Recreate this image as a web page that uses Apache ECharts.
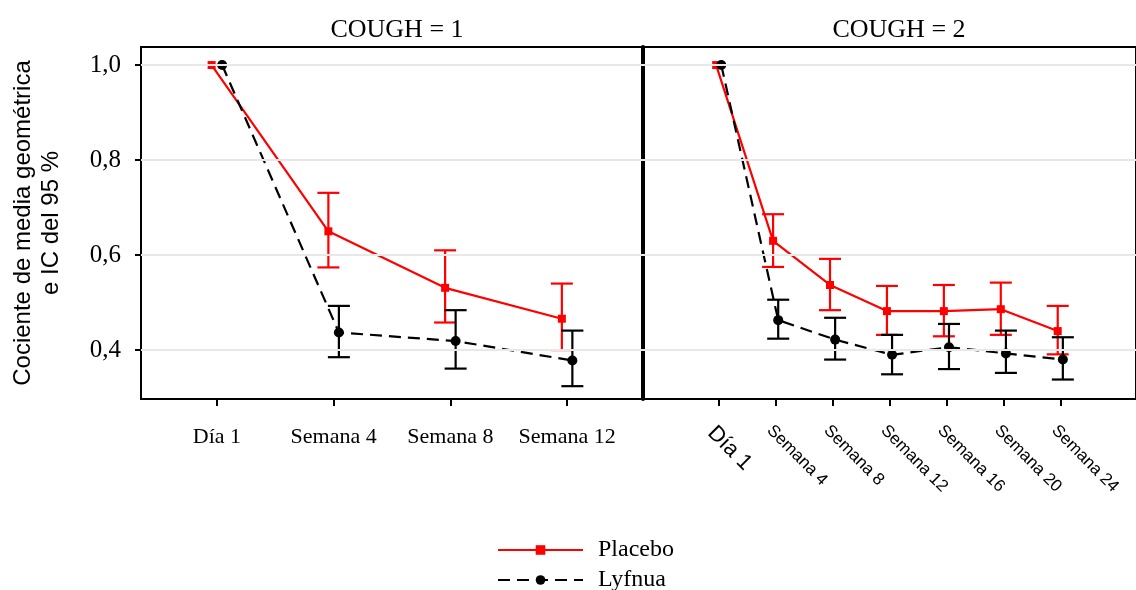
<!DOCTYPE html>
<html><head><meta charset="utf-8">
<script src="https://cdn.jsdelivr.net/npm/echarts@6/dist/echarts.min.js"></script>
<style>html,body{margin:0;padding:0;background:#fff}#c{width:1136px;height:590px}</style>
</head><body><div id="c"></div>
<script>
// ---- data ----
const panelTitles = ['COUGH = 1', 'COUGH = 2'];
const categories1 = ['Día 1', 'Semana 4', 'Semana 8', 'Semana 12'];
const categories2 = ['Día 1', 'Semana 4', 'Semana 8', 'Semana 12', 'Semana 16', 'Semana 20', 'Semana 24'];
const seriesNames = ['Placebo', 'Lyfnua'];
const yTicks = [0.4, 0.6, 0.8, 1.0];
const yAxisTitle = 'Cociente de media geométrica\ne IC del 95 %';

const placebo1      = [1.0, 0.650, 0.531, 0.466];
const placebo1Lower = [null, 0.574, 0.458, 0.400];
const placebo1Upper = [null, 0.731, 0.610, 0.540];
const lyfnua1       = [1.0, 0.437, 0.419, 0.378];
const lyfnua1Lower  = [null, 0.385, 0.361, 0.324];
const lyfnua1Upper  = [null, 0.493, 0.484, 0.441];

const placebo2      = [1.0, 0.630, 0.537, 0.482, 0.482, 0.486, 0.440];
const placebo2Lower = [null, 0.575, 0.484, 0.432, 0.429, 0.432, 0.391];
const placebo2Upper = [null, 0.686, 0.592, 0.535, 0.537, 0.542, 0.493];
const lyfnua2       = [1.0, 0.463, 0.422, 0.390, 0.406, 0.393, 0.380];
const lyfnua2Lower  = [null, 0.424, 0.380, 0.349, 0.360, 0.352, 0.338];
const lyfnua2Upper  = [null, 0.506, 0.468, 0.432, 0.455, 0.441, 0.427];

// ---- style ----
const RED = '#ff0000', BLACK = '#000000';
const DODGE = 0.045;
const SERIF = 'Liberation Serif', SANS = 'Liberation Sans';

function pts(vals, off) { return vals.map((v, i) => [i + off, v]); }
function errs(lo, hi, off) {
  const out = [];
  lo.forEach((l, i) => { if (l != null && hi[i] != null) out.push([i + off, l, hi[i]]); });
  return out;
}
function errSeries(name, color, gi, data) {
  return {
    name: name, type: 'custom', xAxisIndex: gi, yAxisIndex: gi, z: 3,
    encode: { x: 0, y: [1, 2] }, data: data, silent: true,
    renderItem: function (params, api) {
      const x = api.value(0), lo = api.value(1), hi = api.value(2);
      const a = api.coord([x, lo]), b = api.coord([x, hi]);
      const hw = 11;
      const st = { stroke: color, lineWidth: 2.2, fill: null };
      return { type: 'group', children: [
        { type: 'line', shape: { x1: a[0], y1: a[1], x2: b[0], y2: b[1] }, style: st },
        { type: 'line', shape: { x1: a[0] - hw, y1: a[1], x2: a[0] + hw, y2: a[1] }, style: st },
        { type: 'line', shape: { x1: b[0] - hw, y1: b[1], x2: b[0] + hw, y2: b[1] }, style: st }
      ]};
    }
  };
}
function lineSeries(name, color, gi, data, dashed, symbol) {
  return {
    name: name, type: 'line', xAxisIndex: gi, yAxisIndex: gi, z: 4,
    data: data, symbol: symbol, symbolSize: symbol === 'rect' ? 8 : 10,
    itemStyle: { color: color },
    lineStyle: { color: color, width: 2.2, type: dashed ? [12, 7] : 'solid' },
    emphasis: { disabled: true }, animation: false
  };
}
function gridLines(gi) {
  return {
    name: 'grid' + gi, type: 'line', xAxisIndex: gi, yAxisIndex: gi, data: [], z: 1,
    markLine: {
      silent: true, symbol: 'none', label: { show: false }, animation: false,
      lineStyle: { color: '#e8e8e8', width: 2, type: 'solid' },
      data: yTicks.map(v => ({ yAxis: v }))
    }
  };
}

const yFmt = v => v.toFixed(1).replace('.', ',');
const legendText = { fontFamily: SERIF, fontSize: 24, color: '#000', padding: [0, 0, 0, 10] };

const option = {
  animation: false,
  backgroundColor: '#ffffff',
  title: [
    { text: panelTitles[0], left: 392, top: 12, textAlign: 'center',
      textStyle: { fontFamily: SERIF, fontSize: 26, fontWeight: 'normal', color: '#000' } },
    { text: panelTitles[1], left: 894, top: 12, textAlign: 'center',
      textStyle: { fontFamily: SERIF, fontSize: 26, fontWeight: 'normal', color: '#000' } }
  ],
  legend: [
    { data: [seriesNames[0]], left: 492, top: 533, itemWidth: 85, itemHeight: 12, textStyle: legendText, selectedMode: false },
    { data: [seriesNames[1]], left: 492, top: 563, itemWidth: 85, itemHeight: 12, textStyle: legendText, selectedMode: false }
  ],
  grid: [
    { left: 141, top: 47, right: 493, bottom: 191, show: true, borderColor: '#000', borderWidth: 2, backgroundColor: 'transparent' },
    { left: 643, top: 47, right: -13, bottom: 191, show: true, borderColor: '#000', borderWidth: 2, backgroundColor: 'transparent' }
  ],
  xAxis: [
    { type: 'value', gridIndex: 0, min: -0.65, max: 3.65,
      axisLine: { show: true, onZero: false, lineStyle: { color: '#000', width: 2 } },
      axisTick: { show: true, length: 7, lineStyle: { color: '#000', width: 2 }, customValues: [0, 1, 2, 3] },
      axisLabel: { customValues: [0, 1, 2, 3], formatter: v => categories1[Math.round(v)] || '',
        fontFamily: SERIF, fontSize: 22, color: '#000', margin: 27 },
      splitLine: { show: false } },
    { type: 'value', gridIndex: 1, min: -1.33, max: 7.33,
      axisLine: { show: true, onZero: false, lineStyle: { color: '#000', width: 2 } },
      axisTick: { show: true, length: 7, lineStyle: { color: '#000', width: 2 }, customValues: [0, 1, 2, 3, 4, 5, 6] },
      axisLabel: { customValues: [0, 1, 2, 3, 4, 5, 6], rotate: -45, align: 'left', verticalAlign: 'top', margin: 23,
        formatter: v => { const i = Math.round(v); return i === 0 ? '{big|' + categories2[i] + '}' : '{sm|' + (categories2[i] || '') + '}'; },
        rich: { big: { fontFamily: SANS, fontSize: 22, color: '#000' }, sm: { fontFamily: SANS, fontSize: 17, color: '#000' } } },
      splitLine: { show: false } }
  ],
  yAxis: [
    { type: 'value', gridIndex: 0, min: 0.297, max: 1.038,
      name: yAxisTitle, nameLocation: 'middle', nameGap: 76,
      nameTextStyle: { fontFamily: SANS, fontSize: 24, color: '#000', lineHeight: 28 },
      axisLine: { show: true, onZero: false, lineStyle: { color: '#000', width: 2 } },
      axisTick: { show: true, length: 6, lineStyle: { color: '#000', width: 2 }, customValues: yTicks },
      axisLabel: { customValues: yTicks, formatter: yFmt, fontFamily: SERIF, fontSize: 25, color: '#000', margin: 20 },
      splitLine: { show: false } },
    { type: 'value', gridIndex: 1, min: 0.297, max: 1.038,
      axisLine: { show: true, onZero: false, lineStyle: { color: '#000', width: 4 } },
      axisTick: { show: false }, axisLabel: { show: false }, splitLine: { show: false } }
  ],
  series: [
    gridLines(0), gridLines(1),
    errSeries('Placebo IC', RED, 0, errs(placebo1Lower, placebo1Upper, -DODGE)),
    errSeries('Lyfnua IC', BLACK, 0, errs(lyfnua1Lower, lyfnua1Upper, DODGE)),
    errSeries('Placebo IC', RED, 1, errs(placebo2Lower, placebo2Upper, -DODGE)),
    errSeries('Lyfnua IC', BLACK, 1, errs(lyfnua2Lower, lyfnua2Upper, DODGE)),
    lineSeries(seriesNames[0], RED, 0, pts(placebo1, -DODGE), false, 'rect'),
    lineSeries(seriesNames[1], BLACK, 0, pts(lyfnua1, DODGE), true, 'circle'),
    lineSeries(seriesNames[0], RED, 1, pts(placebo2, -DODGE), false, 'rect'),
    lineSeries(seriesNames[1], BLACK, 1, pts(lyfnua2, DODGE), true, 'circle')
  ]
};
const chart = echarts.init(document.getElementById('c'), null, { renderer: 'canvas' });
chart.setOption(option);
</script></body></html>
